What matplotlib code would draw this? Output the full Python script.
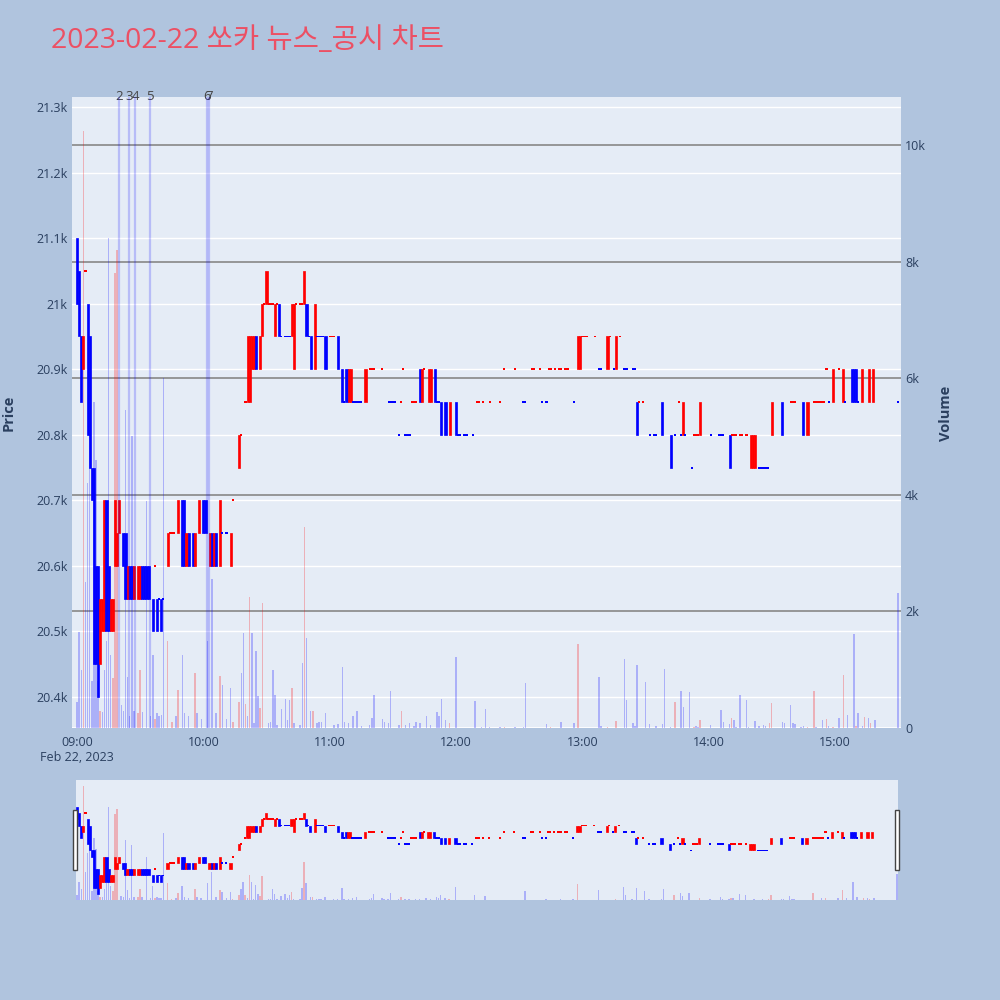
import matplotlib
matplotlib.use('Agg')
import matplotlib.pyplot as plt
from matplotlib.transforms import blended_transform_factory
from matplotlib.patches import Rectangle
import numpy as np

plt.rcParams['font.family'] = ['Open Sans', 'Noto Sans CJK KR', 'DejaVu Sans']

TITLE = '2023-02-22 쏘카 뉴스_공시 차트'

# ---- candles with a body (minute offset from 09:00, open, close)
body_min = [0, 1, 2, 3, 5, 6, 7, 8, 9, 10,
            11, 12, 13, 14, 15, 16, 17, 18, 19, 20,
            22, 23, 24, 25, 26, 27, 29, 30, 31, 32,
            33, 34, 36, 38, 40, 43, 48, 50, 51, 52,
            53, 55, 56, 58, 60, 61, 63, 64, 65, 66,
            68, 73, 77, 81, 82, 83, 84, 85, 87, 88,
            90, 94, 96, 102, 103, 108, 109, 111, 113, 118,
            124, 126, 128, 129, 130, 137, 163, 164, 167, 168,
            170, 173, 175, 177, 180, 238, 239, 252, 256, 266,
            278, 282, 288, 296, 310, 320, 321, 322, 330, 335,
            345, 347, 359, 364, 368, 369, 370, 373, 376, 378]
body_open = [21100, 21050, 20950, 20900, 21000, 20950, 20750, 20750, 20600, 20600,
             20450, 20500, 20500, 20700, 20600, 20500, 20500, 20600, 20600, 20650,
             20650, 20650, 20550, 20600, 20600, 20550, 20550, 20550, 20600, 20600,
             20600, 20600, 20550, 20550, 20550, 20600, 20650, 20700, 20700, 20600,
             20650, 20650, 20600, 20650, 20700, 20700, 20600, 20650, 20600, 20650,
             20600, 20600, 20750, 20850, 20850, 20900, 20900, 20950, 20900, 20950,
             21000, 20950, 21000, 20950, 20900, 21000, 21000, 20950, 20900, 20950,
             20950, 20900, 20900, 20850, 20850, 20850, 20900, 20850, 20850, 20850,
             20900, 20850, 20850, 20800, 20850, 20900, 20900, 20900, 20900, 20850,
             20850, 20800, 20800, 20800, 20800, 20750, 20750, 20750, 20800, 20850,
             20850, 20800, 20850, 20850, 20900, 20900, 20900, 20850, 20850, 20850]
body_close = [21000, 20950, 20850, 20950, 20800, 20750, 20700, 20450, 20450, 20400,
              20550, 20550, 20700, 20500, 20500, 20550, 20550, 20700, 20650, 20700,
              20600, 20550, 20600, 20550, 20550, 20600, 20600, 20600, 20550, 20550,
              20550, 20550, 20500, 20500, 20500, 20650, 20700, 20600, 20600, 20650,
              20600, 20600, 20650, 20700, 20650, 20650, 20650, 20600, 20650, 20600,
              20700, 20650, 20800, 20950, 20950, 20950, 20950, 20900, 20950, 21000,
              21050, 21000, 20950, 21000, 21000, 21050, 20950, 20900, 21000, 20900,
              20900, 20850, 20850, 20900, 20900, 20900, 20850, 20900, 20900, 20900,
              20850, 20800, 20800, 20850, 20800, 20950, 20950, 20950, 20950, 20800,
              20800, 20750, 20850, 20850, 20750, 20800, 20800, 20800, 20850, 20800,
              20800, 20850, 20900, 20900, 20850, 20850, 20850, 20900, 20900, 20900]

# ---- flat candles (open == close), red and blue
red_doji_min = [4, 37, 44, 45, 46, 74, 78, 80, 89, 91,
                92, 93, 95, 104, 106, 107, 120, 121, 122, 139,
                140, 141, 145, 154, 155, 159, 160, 161, 165, 190,
                191, 193, 196, 201, 203, 208, 216, 217, 220, 224,
                225, 227, 229, 230, 232, 233, 240, 241, 242, 246,
                253, 258, 267, 269, 286, 293, 294, 295, 311, 312,
                313, 315, 316, 318, 339, 340, 341, 350, 351, 352,
                353, 354, 355, 356, 362]
red_doji_price = [21050, 20600, 20650, 20650, 20650, 20700, 20800, 20850, 21000, 21000,
                  21000, 21000, 21000, 21000, 21000, 21000, 20950, 20950, 20950, 20900,
                  20900, 20900, 20900, 20850, 20900, 20850, 20850, 20850, 20900, 20850,
                  20850, 20850, 20850, 20850, 20900, 20900, 20900, 20900, 20900, 20900,
                  20900, 20900, 20900, 20900, 20900, 20900, 20950, 20950, 20950, 20950,
                  20950, 20950, 20850, 20850, 20850, 20800, 20800, 20800, 20800, 20800,
                  20800, 20800, 20800, 20800, 20850, 20850, 20850, 20850, 20850, 20850,
                  20850, 20850, 20850, 20900, 20900]
blue_doji_min = [39, 41, 69, 71, 97, 99, 100, 101, 110, 114,
                 115, 116, 117, 127, 131, 132, 133, 134, 135, 148,
                 149, 150, 151, 153, 156, 157, 158, 171, 172, 181,
                 182, 184, 185, 188, 212, 213, 221, 223, 236, 248,
                 249, 255, 260, 261, 264, 265, 272, 274, 275, 284,
                 287, 289, 292, 301, 305, 306, 307, 324, 325, 326,
                 327, 328, 357, 365, 371, 390]
blue_doji_price = [20550, 20550, 20650, 20650, 20950, 20950, 20950, 20950, 20950, 20950,
                   20950, 20950, 20950, 20850, 20850, 20850, 20850, 20850, 20850, 20850,
                   20850, 20850, 20850, 20800, 20800, 20800, 20800, 20850, 20850, 20800,
                   20800, 20800, 20800, 20800, 20850, 20850, 20850, 20850, 20850, 20900,
                   20900, 20900, 20900, 20900, 20900, 20900, 20800, 20800, 20800, 20800,
                   20800, 20800, 20750, 20800, 20800, 20800, 20800, 20750, 20750, 20750,
                   20750, 20750, 20850, 20850, 20850, 20850]

# ---- volume (minute, shares, 1 = up bar)
vol_min = [0, 1, 2, 3, 4, 5, 6, 7, 8, 9,
           10, 11, 12, 13, 14, 15, 16, 17, 18, 19,
           21, 22, 23, 24, 25, 26, 27, 29, 30, 31,
           33, 35, 36, 37, 38, 39, 40, 41, 43, 45,
           47, 48, 50, 51, 53, 56, 57, 59, 62, 64,
           66, 68, 69, 71, 73, 74, 77, 78, 79, 80,
           81, 82, 83, 84, 85, 86, 87, 88, 91, 92,
           93, 94, 95, 97, 99, 100, 101, 102, 103, 106,
           107, 108, 109, 111, 112, 114, 115, 116, 118, 122,
           124, 126, 127, 129, 131, 133, 135, 139, 140, 141,
           145, 146, 148, 149, 153, 154, 156, 158, 160, 161,
           163, 166, 168, 171, 172, 173, 175, 177, 180, 189,
           192, 194, 196, 201, 203, 208, 212, 213, 223, 225,
           230, 236, 238, 248, 249, 252, 256, 260, 261, 264,
           265, 266, 270, 272, 275, 278, 279, 282, 284, 287,
           288, 291, 293, 294, 295, 296, 301, 306, 307, 310,
           311, 312, 313, 315, 318, 319, 322, 324, 326, 327,
           329, 330, 335, 336, 339, 340, 341, 344, 345, 347,
           350, 351, 354, 356, 357, 359, 362, 364, 366, 369,
           370, 371, 373, 374, 376, 377, 379, 390]
vol_val = [450, 1650, 1000, 10240, 2500, 4200, 5400, 800, 5600, 4600,
           800, 300, 270, 1000, 1500, 8400, 1250, 850, 7800, 8200,
           400, 300, 5450, 880, 200, 5000, 300, 250, 1000, 270,
           3900, 200, 1250, 150, 250, 200, 220, 6000, 1500, 100,
           200, 650, 1250, 250, 200, 950, 250, 150, 1500, 2550,
           250, 900, 730, 150, 680, 100, 450, 950, 1630, 420,
           210, 2240, 1630, 80, 1320, 550, 350, 2140, 90, 100,
           1000, 560, 60, 320, 500, 140, 480, 680, 80, 60,
           1120, 3450, 1540, 300, 300, 80, 110, 110, 250, 60,
           70, 1040, 100, 80, 210, 290, 40, 50, 180, 570,
           160, 100, 90, 630, 60, 300, 50, 90, 40, 100,
           80, 210, 50, 280, 200, 490, 140, 90, 1210, 470,
           20, 330, 20, 10, 20, 20, 20, 780, 70, 20,
           100, 80, 1440, 870, 30, 20, 120, 1190, 480, 80,
           30, 1080, 790, 70, 40, 70, 1020, 20, 450, 640,
           360, 620, 20, 40, 20, 140, 60, 310, 100, 70,
           180, 140, 20, 570, 480, 20, 120, 40, 60, 40,
           80, 430, 100, 80, 390, 90, 70, 20, 40, 20,
           640, 20, 140, 150, 40, 20, 180, 910, 220, 1620,
           40, 260, 30, 190, 180, 80, 140, 2320]
vol_up = [0, 0, 0, 1, 0, 0, 0, 0, 0, 0,
          0, 1, 0, 0, 0, 0, 0, 1, 1, 1,
          0, 0, 0, 0, 0, 0, 0, 1, 1, 0,
          0, 0, 0, 1, 0, 0, 0, 0, 1, 1,
          0, 1, 0, 0, 0, 1, 0, 0, 0, 0,
          0, 1, 0, 0, 0, 1, 1, 0, 0, 1,
          0, 1, 0, 0, 0, 0, 1, 1, 0, 0,
          0, 0, 0, 0, 0, 0, 0, 1, 0, 0,
          0, 1, 0, 0, 1, 0, 0, 0, 0, 0,
          0, 0, 0, 0, 0, 0, 0, 0, 0, 0,
          0, 0, 0, 0, 0, 1, 0, 0, 0, 0,
          0, 0, 0, 0, 0, 0, 0, 1, 0, 0,
          0, 0, 0, 0, 1, 0, 0, 0, 0, 1,
          0, 0, 1, 0, 0, 1, 1, 0, 0, 0,
          0, 0, 0, 0, 0, 0, 0, 0, 1, 0,
          0, 0, 1, 0, 0, 1, 0, 0, 0, 0,
          1, 0, 0, 0, 0, 0, 0, 0, 0, 0,
          1, 1, 0, 0, 0, 0, 0, 0, 0, 1,
          1, 0, 0, 1, 0, 1, 0, 1, 0, 0,
          1, 0, 0, 1, 0, 1, 0, 0]

# ---- news markers (minute offset, label)
news_min = [20.0, 24.7, 27.6, 34.5, 61.8, 62.9]
news_label = ['2', '3', '4', '5', '6', '7']

hour_ticks = [0, 60, 120, 180, 240, 300, 360]
hour_labels = ['09:00\nFeb 22, 2023', '10:00', '11:00', '12:00', '13:00', '14:00', '15:00']
price_ticks = [20400, 20500, 20600, 20700, 20800, 20900, 21000, 21100, 21200, 21300]
vol_ticks = [0, 2000, 4000, 6000, 8000, 10000]

PRICE_LIM = (20352.8, 21315.3)
VOL_LIM = (0, 10823)
TXT = '#2a3f5f'
RED = '#ff0000'
BLUE = '#0000ff'


def kfmt(v):
    if v == 0:
        return '0'
    s = f'{v/1000:.1f}'.rstrip('0').rstrip('.')
    return s + 'k'


fig = plt.figure(figsize=(10, 10), dpi=100, facecolor='#B0C4DE')


def draw(axp, axv, doji_h):
    bo = np.array(body_open, float)
    bc = np.array(body_close, float)
    cols = [RED if c > o else BLUE for o, c in zip(bo, bc)]
    axp.bar(body_min, np.abs(bc - bo), bottom=np.minimum(bo, bc), width=1.0,
            color=cols, edgecolor=cols, linewidth=0.5, zorder=3)
    rp = np.array(red_doji_price, float)
    axp.bar(red_doji_min, doji_h, bottom=rp - doji_h / 2, width=1.0,
            color=RED, linewidth=0, zorder=3)
    bp = np.array(blue_doji_price, float)
    axp.bar(blue_doji_min, doji_h, bottom=bp - doji_h / 2, width=1.0,
            color=BLUE, linewidth=0, zorder=3)
    vcols = [(1, 0, 0, 0.25) if u else (0, 0, 1, 0.25) for u in vol_up]
    axv.bar(vol_min, vol_val, width=0.7, color=vcols, linewidth=0, zorder=3)


# ---------------- main chart
ax = fig.add_axes([0.072, 0.272, 0.829, 0.631])
ax.set_facecolor('#E5ECF6')
ax.set_xlim(-2.4, 391.4)
ax.set_ylim(*PRICE_LIM)
ax.set_yticks(price_ticks)
ax.set_yticklabels([kfmt(p) for p in price_ticks])
ax.set_xticks(hour_ticks)
ax.set_xticklabels(hour_labels)
ax.tick_params(axis='both', length=0, labelsize=9, labelcolor=TXT)
ax.tick_params(axis='y', pad=3)
ax.tick_params(axis='x', pad=6)
ax.yaxis.grid(True, color='white', linewidth=1.0, zorder=0)
ax.set_axisbelow(True)
for s in ax.spines.values():
    s.set_visible(False)

ax2 = ax.twinx()
ax2.set_ylim(*VOL_LIM)
ax2.set_yticks(vol_ticks)
ax2.set_yticklabels([kfmt(v) for v in vol_ticks])
ax2.tick_params(axis='y', length=0, labelsize=9, labelcolor=TXT, pad=3)
for s in ax2.spines.values():
    s.set_visible(False)

# volume grid, drawn under the candles
trv = blended_transform_factory(ax.transAxes, ax2.transData)
for v in vol_ticks[1:]:
    ax.plot([0, 1], [v, v], transform=trv, color='#8f8f8f', linewidth=1.3, zorder=1)
ax.plot([0, 1], [0, 0], transform=trv, color='white', linewidth=2, zorder=1)

draw(ax, ax2, 3.0)

trn = blended_transform_factory(ax.transData, ax.transAxes)
for m, lab in zip(news_min, news_label):
    ax2.axvline(m, color=(0, 0, 1, 0.2), linewidth=1.6, zorder=4)
    ax.text(m, 1.0, lab, transform=trn, ha='center', va='center',
            fontsize=9.5, color='#444444', zorder=5, clip_on=False)

# ---------------- range slider
sl = fig.add_axes([0.076, 0.100, 0.822, 0.120])
sl.set_facecolor('#E5ECF6')
sl.set_xlim(-0.5, 390.5)
sl.set_ylim(*PRICE_LIM)
sl.set_xticks([])
sl.set_yticks([])
for s in sl.spines.values():
    s.set_visible(False)
sl2 = sl.twinx()
sl2.set_ylim(*VOL_LIM)
sl2.set_yticks([])
for s in sl2.spines.values():
    s.set_visible(False)
draw(sl, sl2, 14.0)

for x0 in (0.0732, 0.8948):
    fig.patches.append(Rectangle((x0, 0.130), 0.0042, 0.060, transform=fig.transFigure,
                                 facecolor='white', edgecolor='#444444', linewidth=1.0))

# ---------------- texts
fig.text(0.051, 0.959, TITLE, fontsize=20.5, color='#EC5064', va='center', ha='left',
         family=['Open Sans', 'Noto Sans CJK KR', 'DejaVu Sans'])
fig.text(0.009, 0.587, 'Price', rotation=90, ha='center', va='center',
         fontsize=10.5, fontweight='bold', color=TXT)
fig.text(0.946, 0.587, 'Volume', rotation=90, ha='center', va='center',
         fontsize=10.5, fontweight='bold', color=TXT)

fig.savefig('out.png', dpi=100, facecolor=fig.get_facecolor())
